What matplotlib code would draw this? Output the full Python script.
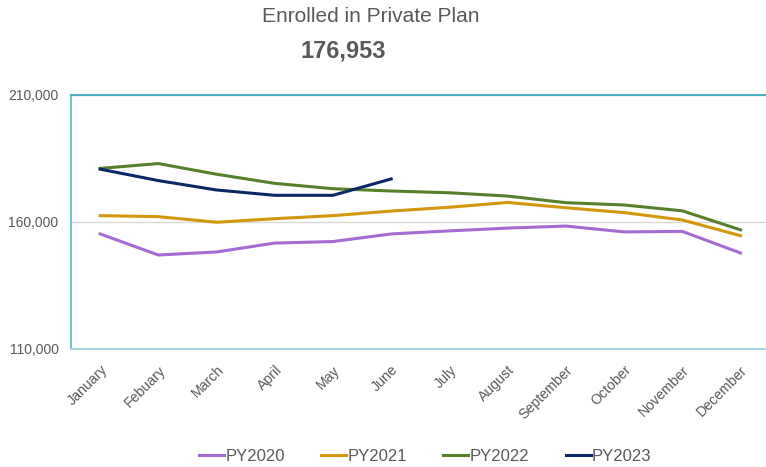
# Enrolled in Private Plan - monthly enrollment by plan year

import matplotlib.pyplot as plt
from matplotlib.ticker import FuncFormatter

plt.rcParams['font.family'] = ['Liberation Sans', 'DejaVu Sans']

months = ["January", "Febuary", "March", "April", "May", "June", "July",
          "August", "September", "October", "November", "December"]

py2020 = [155300, 147000, 148200, 151700, 152300, 155300, 156500, 157600, 158400, 156100, 156300, 147800]
py2021 = [162500, 162100, 159900, 161300, 162500, 164300, 165800, 167700, 165600, 163700, 160800, 154600]
py2022 = [181100, 183000, 178800, 175200, 173100, 172200, 171500, 170200, 167600, 166700, 164400, 156900]
py2023 = [180800, 176300, 172600, 170500, 170500, 176953]

series = [("PY2020", py2020, "#A66BD3"),
          ("PY2021", py2021, "#D4960A"),
          ("PY2022", py2022, "#56802C"),
          ("PY2023", py2023, "#0B2866")]

fig = plt.figure(figsize=(7.66, 4.67), dpi=100)
ax = fig.add_axes([0.0927, 0.2527, 0.912, 0.5439])

x = list(range(len(months)))
for name, vals, color in series:
    ax.plot(x[:len(vals)], vals, color=color, linewidth=2.2, label=name)

ax.set_ylim(110000, 210000)
ax.set_yticks([110000, 160000, 210000])
ax.yaxis.set_major_formatter(FuncFormatter(lambda v, p: f"{int(v):,}"))
ax.set_xlim(-0.5, 11.5)
ax.set_xticks(x)
ax.set_xticklabels(months, rotation=45, ha="right", rotation_mode="anchor",
                   fontsize=10.2, color="#595959")
ax.tick_params(axis="y", labelsize=10, labelcolor="#595959", length=0, pad=9)
ax.tick_params(axis="x", length=0, pad=10)
ax.grid(axis="y", color="#D9D9D9", linewidth=1)
ax.set_axisbelow(True)

ax.spines["right"].set_visible(False)
ax.spines["left"].set_color("#6CC3D9")
ax.spines["top"].set_color("#4BACC6")
ax.spines["bottom"].set_color("#A9D3DE")
for s in ["left", "top", "bottom"]:
    ax.spines[s].set_linewidth(1.5)

fig.text(0.484, 0.964, "Enrolled in Private Plan", ha="center", va="center",
         fontsize=15, color="#595959")
fig.text(0.448, 0.891, "176,953", ha="center", va="center",
         fontsize=17, fontweight="bold", color="#595959")

fig.legend(loc="center", bbox_to_anchor=(0.555, 0.022), ncol=4, frameon=False,
           fontsize=12, labelcolor="#595959", handlelength=1.5, handletextpad=0.05,
           columnspacing=2.2)

fig.savefig("out.png", dpi=100)
